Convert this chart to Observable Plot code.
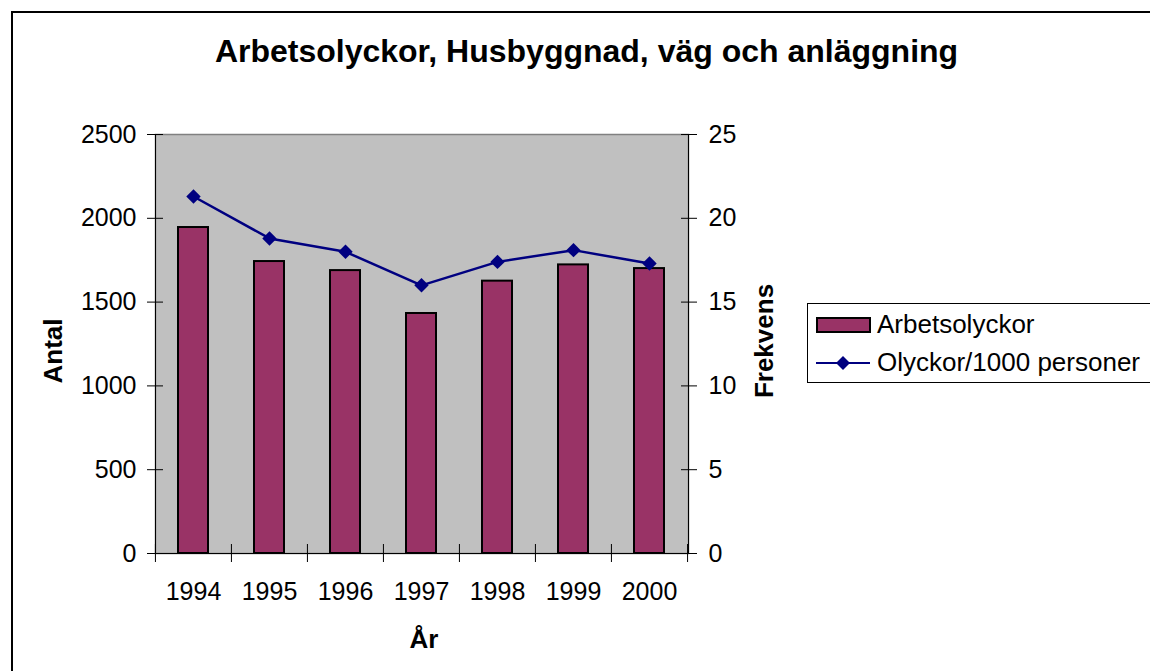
<!DOCTYPE html>
<html>
<head>
<meta charset="utf-8">
<script src="https://cdn.jsdelivr.net/npm/d3@7"></script>
<script src="https://cdn.jsdelivr.net/npm/@observablehq/plot@0.6"></script>
<style>
  body { margin: 0; background: #fff; }
  #wrap { position: relative; width: 1150px; height: 671px; overflow: hidden; font-family: "Liberation Sans", Arial, sans-serif; color: #000; }
  #chart { position: absolute; left: 0; top: 0; }
  #ov { position: absolute; left: 0; top: 0; pointer-events: none; font-family: "Liberation Sans", Arial, sans-serif; }
</style>
</head>
<body>
<div id="wrap">
  <div id="chart"></div>
  <svg id="ov" width="1150" height="671">
    <path d="M12,672 V12 H1152" stroke="#000" stroke-width="2" fill="none"/>
    <text x="586.5" y="62" text-anchor="middle" font-weight="bold" font-size="32" fill="#000">Arbetsolyckor, Husbyggnad, väg och anläggning</text>
    <text transform="translate(62,351) rotate(-90)" text-anchor="middle" font-weight="bold" font-size="26" fill="#000">Antal</text>
    <text transform="translate(773,341) rotate(-90)" text-anchor="middle" font-weight="bold" font-size="26" fill="#000">Frekvens</text>
    <text x="424" y="648" text-anchor="middle" font-weight="bold" font-size="26" fill="#000">År</text>
    <g id="legend"></g>
  </svg>
</div>
<script>
// ---- data ----
const years = [1994, 1995, 1996, 1997, 1998, 1999, 2000];
const counts = [1945, 1742, 1688, 1432, 1625, 1722, 1700];      // Arbetsolyckor (Antal)
const rates = [21.3, 18.8, 18.0, 16.0, 17.4, 18.1, 17.3];        // Olyckor/1000 personer (Frekvens)
const countTicks = [0, 500, 1000, 1500, 2000, 2500];
const rateTicks = [0, 5, 10, 15, 20, 25];
const seriesNames = ["Arbetsolyckor", "Olyckor/1000 personer"];
const barColor = "#993366";
const lineColor = "#000080";

const ratio = countTicks[countTicks.length - 1] / rateTicks[rateTicks.length - 1];
const data = years.map((y, i) => ({year: String(y), count: counts[i], rate: rates[i]}));

const W = 1150, H = 671, mL = 155, mR = 462, mT = 134, mB = 118;
const step = (W - mL - mR) / years.length;

const chart = Plot.plot({
  width: W, height: H,
  marginLeft: mL, marginRight: mR, marginTop: mT, marginBottom: mB,
  style: {fontFamily: '"Liberation Sans", Arial, sans-serif', fontSize: "25px", background: "transparent", color: "#000", overflow: "visible"},
  x: {type: "band", domain: data.map(d => d.year), paddingInner: 0.6, paddingOuter: 0.3, axis: null},
  y: {domain: [countTicks[0], countTicks[countTicks.length - 1]], axis: null},
  marks: [
    Plot.frame({fill: "#c0c0c0", stroke: "#808080", strokeWidth: 1.5}),
    Plot.barY(data, {x: "year", y: "count", fill: barColor, stroke: "#000", strokeWidth: 2}),
    Plot.frame({anchor: "left", stroke: "#000"}),
    Plot.frame({anchor: "right", stroke: "#000"}),
    Plot.frame({anchor: "bottom", stroke: "#000"}),
    Plot.axisY({anchor: "left", ticks: countTicks, tickSize: 16, dx: 8, fill: "none", label: null, stroke: "#000"}),
    Plot.axisY({anchor: "left", ticks: countTicks, tickSize: 0, tickPadding: 19, tickFormat: d => String(d), label: null}),
    Plot.axisY({anchor: "right", ticks: rateTicks.map(v => v * ratio), tickSize: 16, dx: -8, fill: "none", label: null, stroke: "#000"}),
    Plot.axisY({anchor: "right", ticks: rateTicks.map(v => v * ratio), tickSize: 0, tickPadding: 20, tickFormat: d => String(d / ratio), label: null}),
    Plot.axisX({anchor: "bottom", tickSize: 18, dy: -9, dx: -step / 2, fill: "none", label: null, stroke: "#000"}),
    Plot.axisX({anchor: "bottom", ticks: [data[data.length - 1].year], tickSize: 18, dy: -9, dx: step / 2, fill: "none", label: null, stroke: "#000"}),
    Plot.axisX({anchor: "bottom", tickSize: 0, tickPadding: 29, label: null}),
    Plot.line(data, {x: "year", y: d => d.rate * ratio, stroke: lineColor, strokeWidth: 2.5}),
    Plot.dot(data, {x: "year", y: d => d.rate * ratio, symbol: "diamond2", r: 6.5, fill: lineColor, stroke: "none"})
  ]
});
document.getElementById("chart").appendChild(chart);

// ---- legend ----
const ns = "http://www.w3.org/2000/svg";
const lg = document.getElementById("legend");
function el(tag, attrs, text) {
  const e = document.createElementNS(ns, tag);
  for (const k in attrs) e.setAttribute(k, attrs[k]);
  if (text) e.textContent = text;
  lg.appendChild(e);
  return e;
}
el("rect", {x: 807.5, y: 303.5, width: 400, height: 79, fill: "#fff", stroke: "#000", "stroke-width": 1});
el("rect", {x: 817, y: 318, width: 53, height: 14, fill: barColor, stroke: "#000", "stroke-width": 2});
el("text", {x: 877, y: 333, "font-size": 26, fill: "#000"}, seriesNames[0]);
el("line", {x1: 816, x2: 870, y1: 363, y2: 363, stroke: lineColor, "stroke-width": 2});
el("path", {d: "M843,356 L850,363 L843,370 L836,363 Z", fill: lineColor});
el("text", {x: 877, y: 371, "font-size": 26, fill: "#000"}, seriesNames[1]);
</script>
</body>
</html>
